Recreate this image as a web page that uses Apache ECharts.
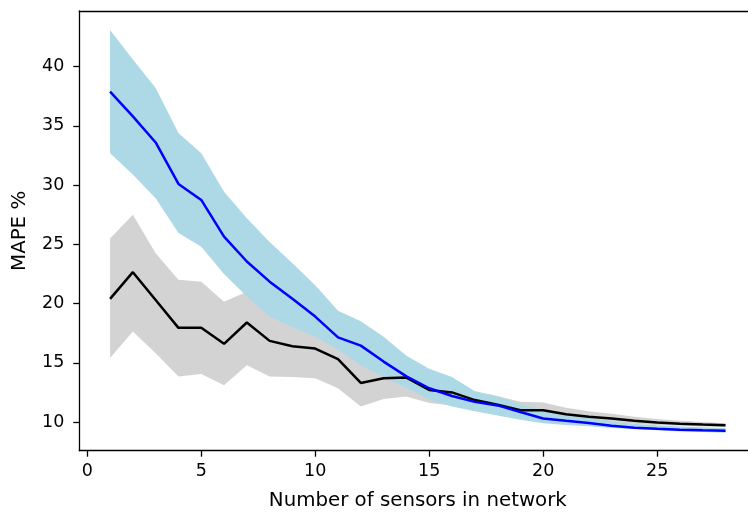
<!DOCTYPE html>
<html>
<head>
<meta charset="utf-8">
<script src="https://cdn.jsdelivr.net/npm/echarts@6/dist/echarts.min.js"></script>
<style>
  html, body { margin: 0; padding: 0; background: #fff; }
  #chart { width: 748px; height: 514px; }
</style>
</head>
<body>
<div id="chart"></div>
<script>
// Number of sensors in the network
const sensors = [1, 2, 3, 4, 5, 6, 7, 8, 9, 10, 11, 12, 13, 14, 15, 16, 17, 18, 19, 20, 21, 22, 23, 24, 25, 26, 27, 28];

// Blue model: mean MAPE and its spread band
const blueMean = [37.9, 35.8, 33.6, 30.1, 28.75, 25.65, 23.55, 21.85, 20.4, 18.9, 17.15, 16.45, 15.1, 13.85, 12.85, 12.2, 11.7, 11.4, 10.85, 10.3, 10.1, 9.92, 9.68, 9.52, 9.42, 9.34, 9.3, 9.27];
const blueUpper = [43.1, 40.6, 38.2, 34.4, 32.7, 29.45, 27.2, 25.2, 23.4, 21.55, 19.4, 18.5, 17.2, 15.6, 14.5, 13.8, 12.6, 12.15, 11.5, 11.0, 10.6, 10.35, 10.05, 9.85, 9.72, 9.62, 9.56, 9.5];
const blueLower = [32.7, 30.9, 28.9, 25.95, 24.8, 22.5, 20.6, 18.9, 18.0, 17.2, 16.1, 14.8, 13.8, 12.9, 11.9, 11.3, 10.9, 10.55, 10.2, 9.9, 9.75, 9.65, 9.5, 9.4, 9.3, 9.2, 9.15, 9.1];

// Black model: mean MAPE and its spread band
const blackMean = [20.4, 22.65, 20.3, 17.95, 17.95, 16.6, 18.4, 16.85, 16.4, 16.2, 15.3, 13.3, 13.7, 13.75, 12.7, 12.5, 11.85, 11.45, 11.0, 11.0, 10.65, 10.45, 10.3, 10.1, 9.95, 9.85, 9.78, 9.72];
const blackUpper = [25.5, 27.5, 24.25, 22.0, 21.85, 20.15, 21.0, 19.7, 19.0, 18.5, 17.4, 15.4, 15.3, 15.1, 13.6, 13.5, 12.6, 12.2, 11.7, 11.65, 11.2, 10.9, 10.7, 10.45, 10.25, 10.1, 10.0, 9.9];
const blackLower = [15.4, 17.65, 15.8, 13.85, 14.05, 13.1, 14.8, 13.85, 13.8, 13.7, 12.85, 11.3, 11.95, 12.15, 11.6, 11.4, 11.0, 10.8, 10.6, 10.6, 10.3, 10.15, 10.0, 9.85, 9.75, 9.68, 9.62, 9.58];

// Axis tick labels
const xTicks = [0, 5, 10, 15, 20, 25];
const yTicks = [10, 15, 20, 25, 30, 35, 40];

const FONT = 'DejaVu Sans';
const TICK_FONT = 17.5;
const NAME_FONT = 19.8;
const X_MIN = -0.35, X_MAX = 29.35;

// Filled band between lower and upper bounds, projected through the axes
function bandSeries(lower, upper, color) {
  return {
    type: 'custom',
    coordinateSystem: 'cartesian2d',
    silent: true,
    data: [[sensors[0], lower[0]]],
    renderItem: function (params, api) {
      const pts = [];
      for (let i = 0; i < sensors.length; i++) pts.push(api.coord([sensors[i], upper[i]]));
      for (let i = sensors.length - 1; i >= 0; i--) pts.push(api.coord([sensors[i], lower[i]]));
      return { type: 'polygon', shape: { points: pts }, style: { fill: color, stroke: null } };
    }
  };
}

function lineSeries(values, color) {
  return {
    type: 'line',
    data: sensors.map((n, i) => [n, values[i]]),
    symbol: 'none',
    silent: true,
    animation: false,
    lineStyle: { color: color, width: 2.5 },
    z: 3
  };
}

const spine = { show: true, onZero: false, lineStyle: { color: '#000', width: 1.3 } };

const chart = echarts.init(document.getElementById('chart'), null, { renderer: 'canvas' });
chart.setOption({
  animation: false,
  backgroundColor: '#ffffff',
  textStyle: { fontFamily: FONT },
  grid: {
    left: 79.3, top: 11, width: 677, height: 439.7,
    outerBoundsMode: 'none', containLabel: false, show: false
  },
  xAxis: [{
    type: 'value', min: X_MIN, max: X_MAX, position: 'bottom',
    name: 'Number of sensors in network', nameLocation: 'middle', nameGap: 40,
    nameTextStyle: { fontFamily: FONT, fontSize: NAME_FONT, color: '#000' },
    axisLine: spine,
    axisTick: { show: true, inside: false, length: 6, lineStyle: { color: '#000', width: 1.3 }, customValues: xTicks },
    axisLabel: { fontFamily: FONT, fontSize: TICK_FONT, color: '#000', margin: 12, customValues: xTicks },
    splitLine: { show: false }
  }, {
    // top frame line
    type: 'value', min: X_MIN, max: X_MAX, position: 'top',
    axisLine: spine, axisTick: { show: false }, axisLabel: { show: false }, splitLine: { show: false }
  }],
  yAxis: {
    type: 'value', min: 7.577, max: 44.70,
    name: 'MAPE %', nameLocation: 'middle', nameGap: 49, nameRotate: 90,
    nameTextStyle: { fontFamily: FONT, fontSize: NAME_FONT, color: '#000' },
    axisLine: spine,
    axisTick: { show: true, inside: false, length: 6, lineStyle: { color: '#000', width: 1.3 }, customValues: yTicks },
    axisLabel: { fontFamily: FONT, fontSize: TICK_FONT, color: '#000', margin: 15, customValues: yTicks },
    splitLine: { show: false }
  },
  series: [
    bandSeries(blackLower, blackUpper, '#d3d3d3'),
    bandSeries(blueLower, blueUpper, '#add8e6'),
    lineSeries(blackMean, '#000000'),
    lineSeries(blueMean, '#0000ff')
  ]
});
</script>
</body>
</html>
